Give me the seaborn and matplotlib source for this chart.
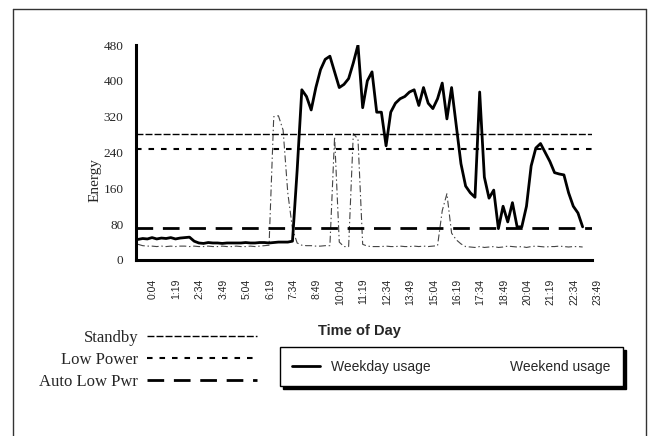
import matplotlib
matplotlib.use("Agg")
import matplotlib.pyplot as plt
import matplotlib.transforms as mtransforms
from matplotlib.lines import Line2D
import pandas as pd
import seaborn as sns

# category labels shown on the time axis (every 5th 15-minute slot)
tick_labels = ["0:04", "1:19", "2:34", "3:49", "5:04", "6:19", "7:34", "8:49",
               "10:04", "11:19", "12:34", "13:49", "15:04", "16:19", "17:34",
               "18:49", "20:04", "21:19", "22:34", "23:49"]

weekday_usage = [46, 48, 47, 50, 47, 49, 48, 50, 47, 49, 50, 51,
                 42, 38, 37, 39, 38, 38, 37, 38, 38, 38, 38, 39, 38, 38, 39,
                 39, 38, 39, 40, 40, 40,
                 42, 200, 380, 365, 335, 385, 425, 448, 455, 420, 385, 392,
                 405, 440, 480, 340, 400, 420, 330, 330, 255, 330, 350, 360,
                 365, 375, 380, 345, 385, 350, 338, 360, 395, 315, 385, 300,
                 215, 165, 150, 140, 375, 185, 138, 156, 70, 120, 85, 128,
                 74, 74, 120, 210, 250, 260, 240, 220, 195, 192, 190, 150,
                 120, 105, 74]

weekend_usage = [35, 32, 31, 31, 30, 31, 30, 31, 30, 31, 31, 30, 31, 30, 30,
                 31, 30, 30, 31, 30, 30, 31, 30, 30, 31, 30, 31, 32, 33,
                 320, 322, 290, 150, 70, 38, 33, 32, 32, 31, 31, 32, 32, 275,
                 40, 30, 30, 282, 270, 35,
                 31, 30, 30, 30, 31, 30, 30, 31, 30, 30, 31, 30, 31, 30, 31, 32,
                 110, 148, 60, 45, 36, 30,
                 29, 28, 30, 28, 29, 30, 28, 29, 31, 30, 29, 30, 28, 30, 31,
                 30, 29, 30, 30, 31, 30, 29, 30, 30, 29]

limit_names = ["Standby", "Low Power", "Auto Low Pwr"]
limit_values = [282, 248, 72]

limit_styles = {
    "Standby": dict(ls=(0, (5, 1.5)), lw=1.0),
    "Low Power": dict(ls=(0, (4, 5)), lw=1.5),
    "Auto Low Pwr": dict(ls=(0, (12, 7)), lw=2.0),
}

sns.set_style("white")
plt.rcParams["font.family"] = ["Liberation Sans", "DejaVu Sans"]
plt.rcParams["lines.scale_dashes"] = False

fig = plt.figure(figsize=(6.48, 4.36), dpi=100)
ax = fig.add_axes([136 / 648, 176 / 436, 456 / 648, 215 / 436])

df = pd.DataFrame({
    "slot": range(len(weekday_usage)),
    "Weekday usage": weekday_usage,
    "Weekend usage": weekend_usage,
})

sns.lineplot(data=df, x="slot", y="Weekend usage", ax=ax, color="#444444",
             lw=0.8, ls=(0, (5, 2, 1, 2)), zorder=2)
limit_lines = []
for name, val in zip(limit_names, limit_values):
    limit_lines.append(ax.axhline(val, color="black", zorder=3, **limit_styles[name]))
sns.lineplot(data=df, x="slot", y="Weekday usage", ax=ax, color="black",
             lw=2.0, zorder=4)
weekday_line = ax.lines[-1]
if ax.get_legend() is not None:
    ax.get_legend().remove()

ax.set_xlim(-0.43, 97)
ax.set_ylim(0, 480)
ax.set_yticks(range(0, 481, 80))
ax.set_yticklabels([str(v) for v in range(0, 481, 80)], family="Liberation Serif", fontsize=9.5)
ax.set_xticks(range(0, len(weekday_usage), 5))
ax.set_xticklabels(tick_labels, rotation=90, fontsize=7.5)
ax.set_xticks(range(len(weekday_usage)), minor=True)
ax.tick_params(axis="x", which="both", direction="inout", length=9, width=2, color="black")
ax.tick_params(axis="x", which="major", pad=9)
ax.tick_params(axis="y", direction="inout", length=8, width=2, pad=5, color="black")

for side in ["top", "right"]:
    ax.spines[side].set_visible(False)
for side in ["left", "bottom"]:
    ax.spines[side].set_linewidth(2.2)
    ax.spines[side].set_color("black")

ax.set_xlabel("Time of Day", fontsize=10.5, fontweight="bold")
ax.xaxis.set_label_coords(0.49, -0.30)
ax.set_ylabel("Energy", family="Liberation Serif", fontsize=11)
ax.yaxis.set_label_coords(-0.075, 0.37)

# tick labels sit a little right of their ticks in the original
offset = mtransforms.ScaledTranslation(15 / 100, 0, fig.dpi_scale_trans)
for lab in ax.get_xticklabels():
    lab.set_transform(lab.get_transform() + offset)

fig.legend(handles=[weekday_line, Line2D([], [], lw=0)],
           labels=["Weekday usage", "Weekend usage"],
           ncol=2, mode="expand", loc="center",
           bbox_to_anchor=(273 / 648, 50 / 436, 357 / 648, 39 / 436),
           frameon=True, fancybox=False, edgecolor="black", framealpha=1,
           shadow={"color": "black", "alpha": 1}, borderpad=0.9,
           handlelength=2.0, prop=dict(family="Liberation Sans", size=10))

fig.legend(handles=limit_lines, labels=limit_names, markerfirst=False,
           frameon=False, loc="center", bbox_to_anchor=(148 / 648, 76 / 436),
           prop=dict(family="Liberation Serif", size=12), handlelength=6.6,
           handletextpad=0.5, labelspacing=0.35)

# outer chart border
for xs, ys in [([13 / 648] * 2, [0, 427 / 436]),
               ([13 / 648, 646 / 648], [427 / 436] * 2),
               ([646 / 648] * 2, [0, 427 / 436])]:
    fig.add_artist(Line2D(xs, ys, transform=fig.transFigure, color="#333333", lw=1))

fig.savefig("out.png", dpi=100)
